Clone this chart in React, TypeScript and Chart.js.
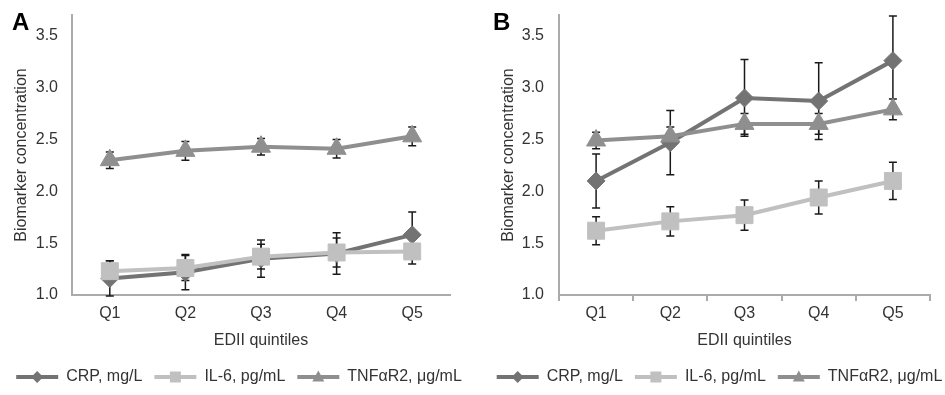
import React, { useEffect, useRef } from "react";
import { Chart, registerables } from "chart.js";

Chart.register(...registerables);

// ---------- data ----------
const categories = ["Q1", "Q2", "Q3", "Q4", "Q5"];
const seriesNames = ["CRP, mg/L", "IL-6, pg/mL", "TNFαR2, μg/mL"];
const yTickValues = [1.0, 1.5, 2.0, 2.5, 3.0, 3.5];
const yMin = 1.0;
const yMax = 3.7;
const xTitle = "EDII quintiles";
const yTitle = "Biomarker concentration";

// Panel A
const crpA = [1.16, 1.22, 1.35, 1.4, 1.58];
const crpErrA = [0.17, 0.17, 0.18, 0.2, 0.22];
const il6A = [1.23, 1.26, 1.37, 1.41, 1.42];
const il6ErrA = [0.1, 0.12, 0.12, 0.14, 0.12];
const tnfA = [2.3, 2.39, 2.43, 2.41, 2.53];
const tnfErrA = [0.08, 0.09, 0.08, 0.09, 0.09];

// Panel B
const crpB = [2.1, 2.47, 2.9, 2.87, 3.26];
const crpErrB = [0.26, 0.31, 0.37, 0.37, 0.43];
const il6B = [1.62, 1.71, 1.77, 1.94, 2.1];
const il6ErrB = [0.135, 0.14, 0.145, 0.16, 0.18];
const tnfB = [2.49, 2.53, 2.65, 2.65, 2.79];
const tnfErrB = [0.08, 0.09, 0.1, 0.1, 0.1];

// ---------- styles ----------
const FONT = '"Liberation Sans", Arial, sans-serif';
const COLORS = ["#737373", "#c0c0c0", "#8f8f8f"];
const POINT_STYLES = ["rectRot", "rect", "triangle"];
const POINT_RADII = [9, 12, 11];
const AXIS_COLOR = "#ababab";
const TEXT_COLOR = "#333333";
const LEGEND_BOX_W = 42;

Chart.defaults.font.family = FONT;

const errorBarPlugin = {
  id: "errorBars",
  beforeDatasetsDraw(chart: any) {
    const ctx = chart.ctx;
    const yScale = chart.scales.y;
    ctx.save();
    ctx.strokeStyle = "#1a1a1a";
    ctx.lineWidth = 1.5;
    chart.data.datasets.forEach((ds: any, i: number) => {
      const meta = chart.getDatasetMeta(i);
      const errs = ds.errorBars || [];
      meta.data.forEach((pt: any, j: number) => {
        const v = ds.data[j];
        const e = errs[j];
        if (v == null || e == null) return;
        const x = pt.x;
        const yt = yScale.getPixelForValue(v + e);
        const yb = yScale.getPixelForValue(v - e);
        ctx.beginPath();
        ctx.moveTo(x, yt);
        ctx.lineTo(x, yb);
        ctx.moveTo(x - 4, yt);
        ctx.lineTo(x + 4, yt);
        ctx.moveTo(x - 4, yb);
        ctx.lineTo(x + 4, yb);
        ctx.stroke();
      });
    });
    ctx.restore();
  },
};

const legendMarkerPlugin = {
  id: "legendMarkers",
  afterDraw(chart: any) {
    const lg = chart.legend;
    if (!lg || !lg.legendHitBoxes) return;
    const ctx = chart.ctx;
    ctx.save();
    lg.legendHitBoxes.forEach((hb: any, i: number) => {
      const ds = chart.data.datasets[i];
      if (!ds) return;
      const cx = hb.left + LEGEND_BOX_W / 2;
      const cy = hb.top + 8;
      ctx.fillStyle = ds.borderColor;
      ctx.beginPath();
      const st = ds.pointStyle;
      if (st === "rectRot") {
        ctx.moveTo(cx, cy - 6);
        ctx.lineTo(cx + 6, cy);
        ctx.lineTo(cx, cy + 6);
        ctx.lineTo(cx - 6, cy);
      } else if (st === "rect") {
        ctx.rect(cx - 5.5, cy - 5.5, 11, 11);
      } else {
        ctx.moveTo(cx, cy - 6.5);
        ctx.lineTo(cx + 6, cy + 4.5);
        ctx.lineTo(cx - 6, cy + 4.5);
      }
      ctx.closePath();
      ctx.fill();
    });
    ctx.restore();
  },
};

type PanelCfg = {
  letter: string;
  letterX: number;
  left: number;
  width: number;
  yWidth: number;
  rightWidth: number;
  yTitlePad: number;
  yTickPad: number;
  xTickMarks: boolean;
  series: number[][];
  errors: number[][];
};

const panels: PanelCfg[] = [
  {
    letter: "A",
    letterX: 12,
    left: 0,
    width: 478,
    yWidth: 72,
    rightWidth: 28,
    yTitlePad: 12.4,
    yTickPad: 14,
    xTickMarks: false,
    series: [crpA, il6A, tnfA],
    errors: [crpErrA, il6ErrA, tnfErrA],
  },
  {
    letter: "B",
    letterX: 493,
    left: 472,
    width: 495,
    yWidth: 87,
    rightWidth: 37,
    yTitlePad: 27.4,
    yTickPad: 15,
    xTickMarks: true,
    series: [crpB, il6B, tnfB],
    errors: [crpErrB, il6ErrB, tnfErrB],
  },
];

function Panel({ cfg }: { cfg: PanelCfg }) {
  const ref = useRef<HTMLCanvasElement>(null);
  useEffect(() => {
    if (!ref.current) return;
    const datasets = cfg.series.map((data, i) => ({
      type: "line" as const,
      label: seriesNames[i],
      data,
      errorBars: cfg.errors[i],
      yAxisID: "y",
      borderColor: COLORS[i],
      backgroundColor: COLORS[i],
      borderWidth: 4,
      pointStyle: POINT_STYLES[i],
      pointRadius: POINT_RADII[i],
      pointHoverRadius: POINT_RADII[i],
      pointBackgroundColor: COLORS[i],
      pointBorderColor: COLORS[i],
      pointBorderWidth: 1,
      tension: 0,
      order: 3 - i,
      fill: false,
      clip: false,
    }));
    const chart = new Chart(ref.current, {
      type: "line",
      data: { labels: categories, datasets: datasets as any },
      plugins: [errorBarPlugin, legendMarkerPlugin],
      options: {
        animation: false,
        responsive: false,
        devicePixelRatio: 1,
        events: [],
        layout: {
          autoPadding: false,
          padding: { top: 15, right: 0, left: 0, bottom: 0 },
        },
        plugins: {
          tooltip: { enabled: false },
          legend: {
            position: "bottom",
            labels: {
              boxWidth: LEGEND_BOX_W,
              boxHeight: 4,
              padding: 12,
              color: TEXT_COLOR,
              font: { size: 16, family: FONT },
              generateLabels: (c: any) =>
                c.data.datasets.map((ds: any, i: number) => ({
                  text: ds.label,
                  fillStyle: ds.borderColor,
                  strokeStyle: ds.borderColor,
                  lineWidth: 0,
                  hidden: false,
                  datasetIndex: i,
                  fontColor: TEXT_COLOR,
                })),
            },
          },
        },
        scales: {
          x: {
            type: "category",
            offset: true,
            afterFit: (s: any) => {
              s.height = 62;
            },
            grid: {
              display: cfg.xTickMarks,
              drawOnChartArea: false,
              drawTicks: cfg.xTickMarks,
              tickLength: 6,
              color: AXIS_COLOR,
              lineWidth: 2,
              offset: true,
            },
            border: { display: true, color: AXIS_COLOR, width: 2 },
            ticks: {
              color: TEXT_COLOR,
              font: { size: 16, family: FONT },
              padding: cfg.xTickMarks ? 3 : 9,
              maxRotation: 0,
            },
            title: {
              display: true,
              text: xTitle,
              color: TEXT_COLOR,
              font: { size: 16, family: FONT },
              padding: { top: 0, bottom: 6.4 },
            },
          },
          y: {
            type: "linear",
            position: "left",
            min: yMin,
            max: yMax,
            afterFit: (s: any) => {
              s.width = cfg.yWidth;
              s.paddingTop = 0;
              s.paddingBottom = 0;
            },
            afterBuildTicks: (s: any) => {
              s.ticks = yTickValues.map((v) => ({ value: v }));
            },
            grid: { display: false, drawTicks: false },
            border: { display: true, color: AXIS_COLOR, width: 2 },
            ticks: {
              color: TEXT_COLOR,
              font: { size: 16, family: FONT },
              padding: cfg.yTickPad,
              callback: (v: any) => Number(v).toFixed(1),
            },
            title: {
              display: true,
              text: yTitle,
              color: TEXT_COLOR,
              font: { size: 16, family: FONT },
              padding: { top: cfg.yTitlePad, bottom: 0 },
            },
          },
          spacer: {
            type: "linear",
            position: "right",
            display: true,
            afterFit: (s: any) => {
              s.width = cfg.rightWidth;
              s.paddingTop = 0;
              s.paddingBottom = 0;
            },
            grid: { display: false, drawTicks: false },
            border: { display: false },
            ticks: { display: false },
            title: { display: false },
          },
        },
      } as any,
    });
    return () => chart.destroy();
  }, [cfg]);

  return (
    <div
      style={{
        position: "absolute",
        left: cfg.left,
        top: 0,
        width: cfg.width,
        height: 395,
      }}
    >
      <canvas
        ref={ref}
        width={cfg.width}
        height={395}
        style={{ display: "block", width: cfg.width, height: 395 }}
      />
      <div
        style={{
          position: "absolute",
          left: cfg.letterX - cfg.left,
          top: 10,
          font: `bold 24px ${FONT}`,
          lineHeight: "24px",
          color: "#000",
        }}
      >
        {cfg.letter}
      </div>
    </div>
  );
}

export default function App() {
  return (
    <div
      style={{
        position: "fixed",
        left: 0,
        top: 0,
        width: 945,
        height: 395,
        background: "#fff",
        overflow: "hidden",
      }}
    >
      {panels.map((p) => (
        <Panel key={p.letter} cfg={p} />
      ))}
    </div>
  );
}
